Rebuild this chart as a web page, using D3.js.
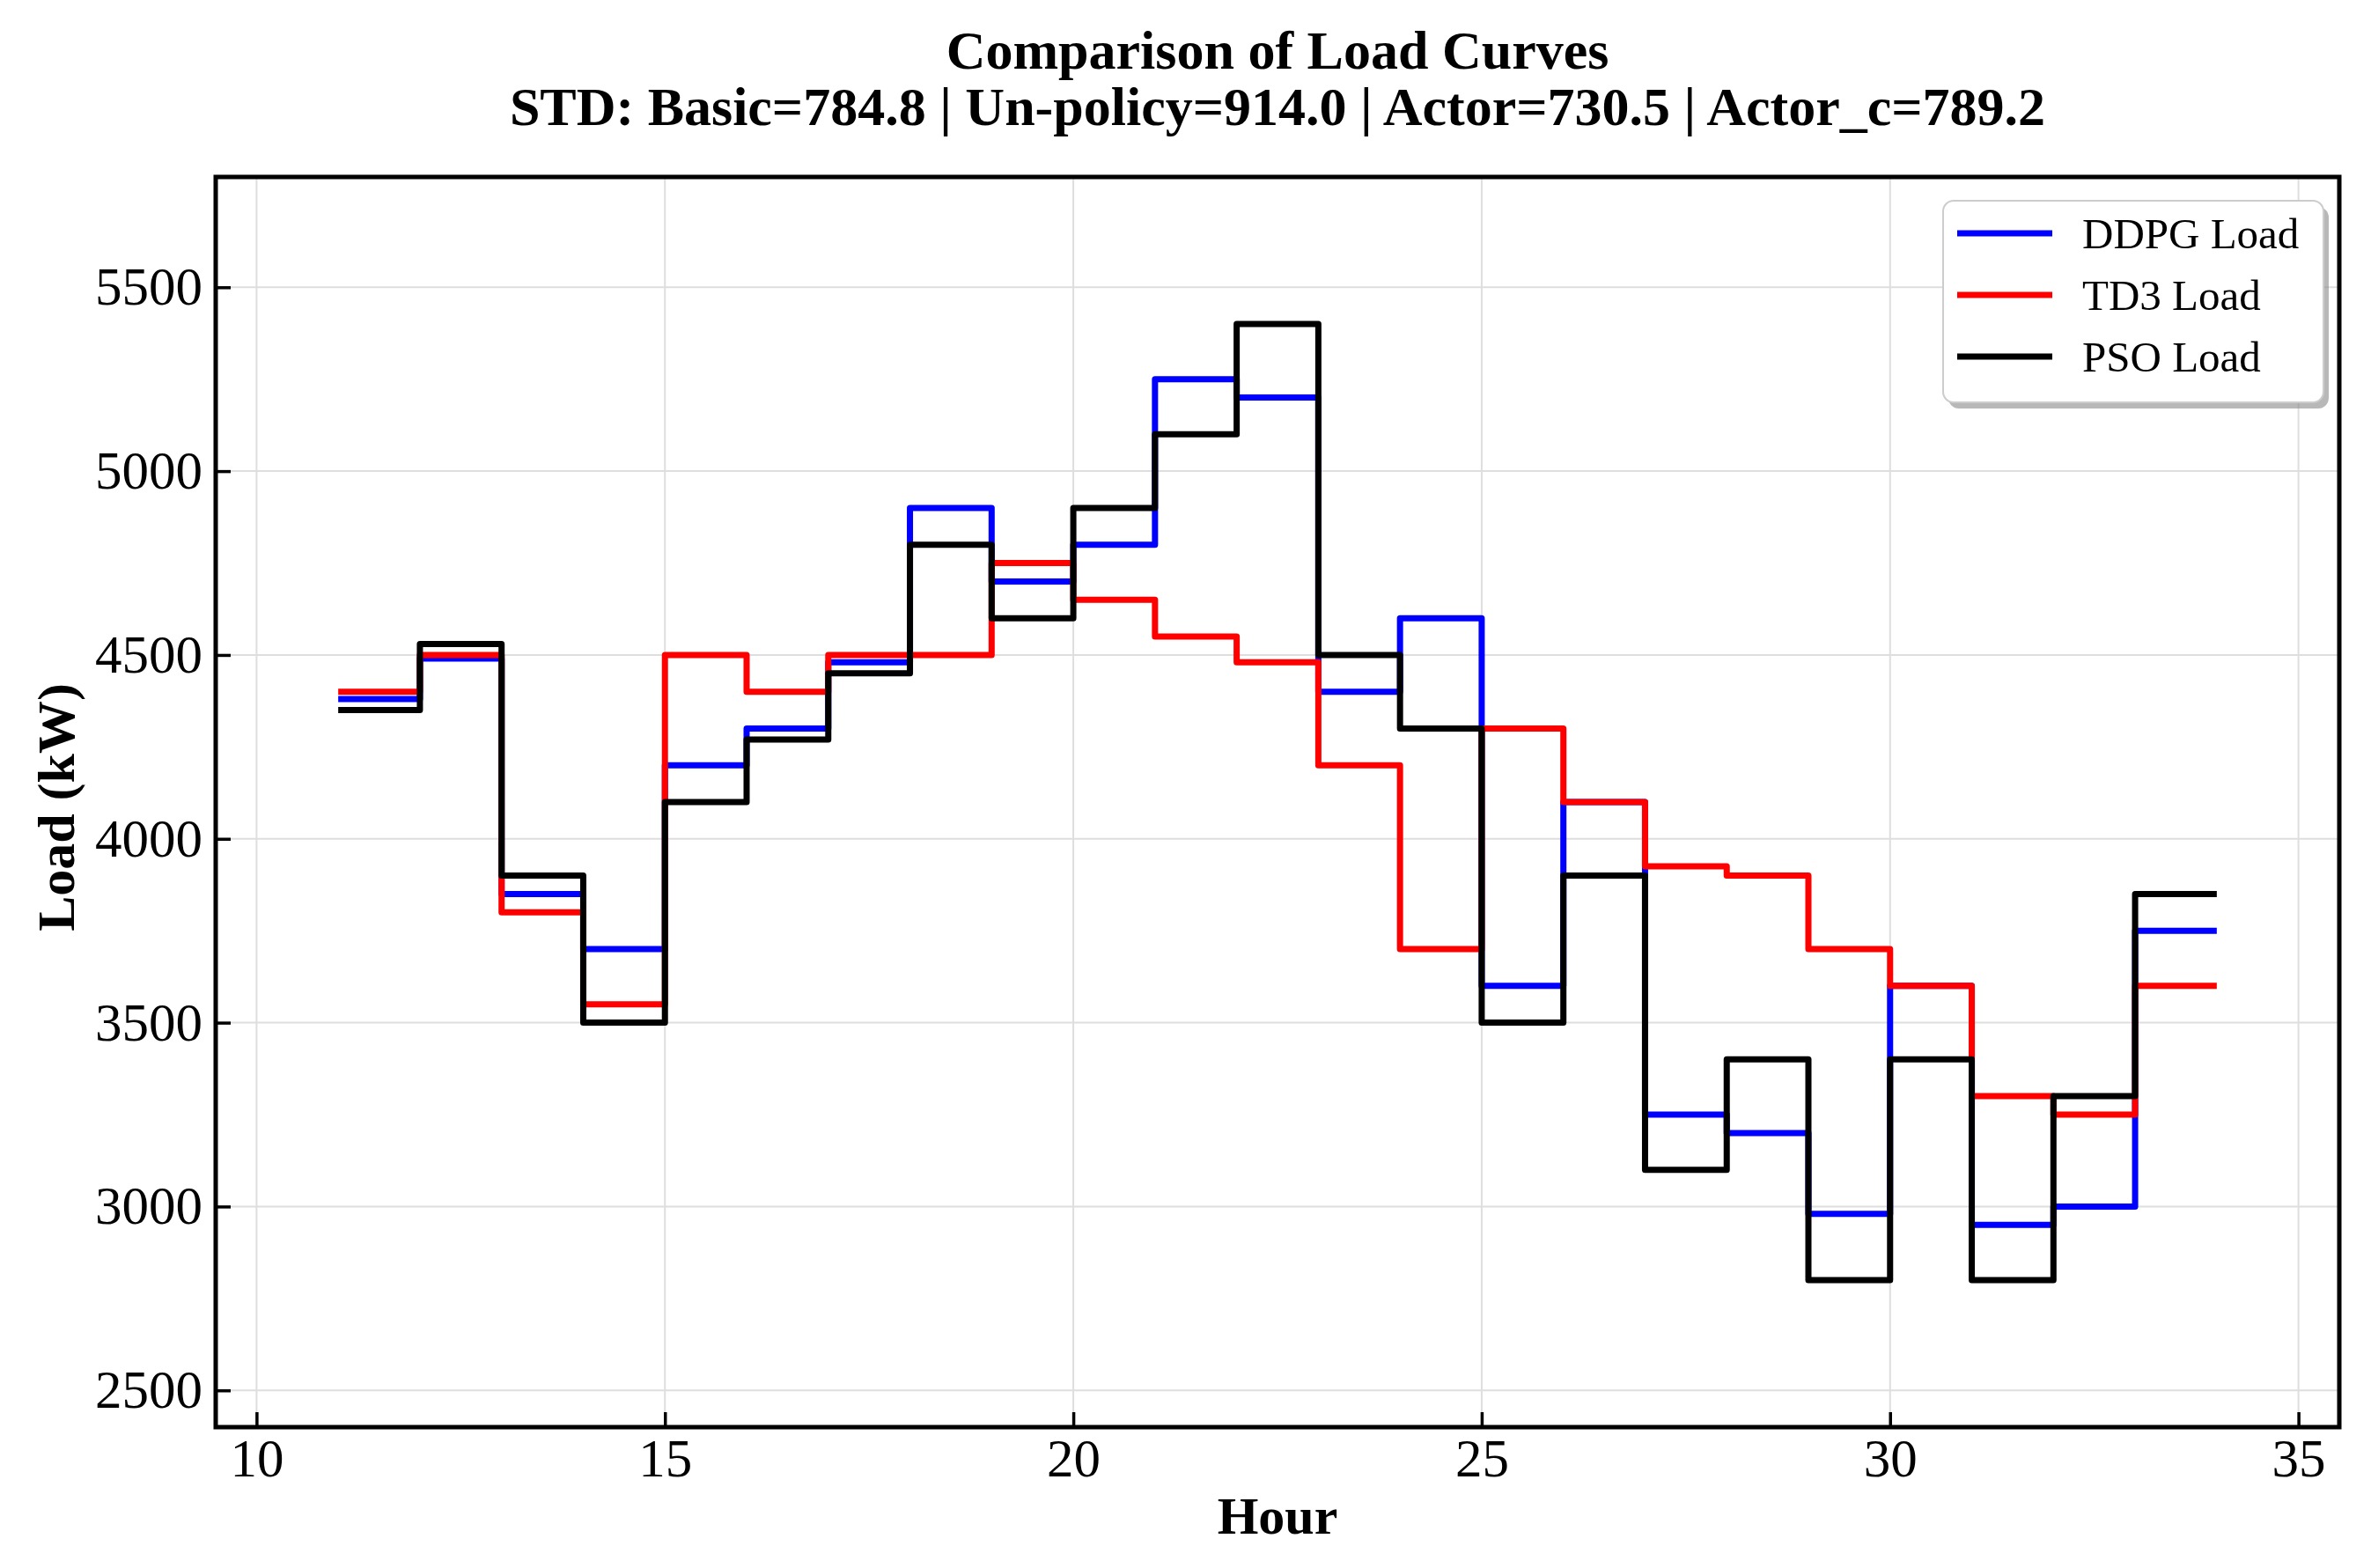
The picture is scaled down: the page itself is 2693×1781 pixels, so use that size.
<!DOCTYPE html>
<html>
<head>
<meta charset="utf-8">
<script src="https://cdn.jsdelivr.net/npm/d3@7"></script>
<style>
  body { margin: 0; background: #fff; }
  text { font-family: "Liberation Serif", "Times New Roman", serif; }
</style>
</head>
<body>
<script>
const WIDTH = 2693
const HEIGHT = 1781

// hours 11..33, each value holds until the next hour (last one until 34)
const HOURS = [11, 12, 13, 14, 15, 16, 17, 18, 19, 20, 21, 22, 23, 24, 25, 26, 27, 28, 29, 30, 31, 32, 33]
const END_HOUR = 34

const DDPG = [4380, 4490, 3850, 3700, 4200, 4300, 4480, 4900, 4700, 4800, 5250, 5200, 4400, 4600, 3600, 4100, 3250, 3200, 2980, 3600, 2950, 3000, 3750]
const TD3 = [4400, 4500, 3800, 3550, 4500, 4400, 4500, 4500, 4750, 4650, 4550, 4480, 4200, 3700, 4300, 4100, 3925, 3900, 3700, 3600, 3300, 3250, 3600]
const PSO = [4350, 4530, 3900, 3500, 4100, 4270, 4450, 4800, 4600, 4900, 5100, 5400, 4500, 4300, 3500, 3900, 3100, 3400, 2800, 3400, 2800, 3300, 3850]

const SERIES_NAMES = ['DDPG Load', 'TD3 Load', 'PSO Load']
const SERIES_COLORS = ['#0000ff', '#ff0000', '#000000']
const SERIES_VALUES = [DDPG, TD3, PSO]

const X_TICKS = [10, 15, 20, 25, 30, 35]
const Y_TICKS = [2500, 3000, 3500, 4000, 4500, 5000, 5500]

const TITLE_1 = 'Comparison of Load Curves'
const TITLE_2 = 'STD: Basic=784.8 | Un-policy=914.0 | Actor=730.5 | Actor_c=789.2'

const M = { left: 245, right: 2657, top: 201, bottom: 1621 }

const svg = d3.select('body')
  .append('svg')
  .attr('width', WIDTH)
  .attr('height', HEIGHT)

const x = d3.scaleLinear().domain([9.5, 35.5]).range([M.left, M.right])
const y = d3.scaleLinear().domain([2400, 5800]).range([M.bottom, M.top])

// grid
const grid = svg.append('g')
grid.selectAll('line.gx')
  .data(X_TICKS)
  .enter()
  .append('line')
  .attr('x1', d => x(d)).attr('x2', d => x(d))
  .attr('y1', M.top).attr('y2', M.bottom)
  .attr('stroke', '#dedede')
  .attr('stroke-width', 2)
grid.selectAll('line.gy')
  .data(Y_TICKS)
  .enter()
  .append('line')
  .attr('x1', M.left).attr('x2', M.right)
  .attr('y1', d => y(d)).attr('y2', d => y(d))
  .attr('stroke', '#dedede')
  .attr('stroke-width', 2)

// step lines
const line = d3.line()
  .x(d => x(d[0]))
  .y(d => y(d[1]))
  .curve(d3.curveStepAfter)

SERIES_VALUES.forEach((vals, i) => {
  const pts = HOURS.map((h, j) => [h, vals[j]])
  pts.push([END_HOUR, vals[vals.length - 1]])
  svg.append('path')
    .attr('d', line(pts))
    .attr('fill', 'none')
    .attr('stroke', SERIES_COLORS[i])
    .attr('stroke-width', 7)
    .attr('stroke-linejoin', 'round')
})

// axes, ticks pointing inward
const xAxis = d3.axisBottom(x).tickValues(X_TICKS).tickFormat(d3.format('d'))
  .tickSizeInner(-17).tickSizeOuter(0).tickPadding(13)
const yAxis = d3.axisLeft(y).tickValues(Y_TICKS).tickFormat(d3.format('d'))
  .tickSizeInner(-17).tickSizeOuter(0).tickPadding(15)

const gx = svg.append('g')
  .attr('transform', `translate(0, ${M.bottom})`)
  .call(xAxis)
const gy = svg.append('g')
  .attr('transform', `translate(${M.left}, 0)`)
  .call(yAxis)

;[gx, gy].forEach(g => {
  g.select('.domain').remove()
  g.selectAll('.tick line').attr('stroke', '#000').attr('stroke-width', 3.5)
  g.selectAll('.tick text')
    .attr('fill', '#000')
    .style('font-size', '61px')
    .style('font-family', '"Liberation Serif", "Times New Roman", serif')
})

// frame
svg.append('rect')
  .attr('x', M.left)
  .attr('y', M.top)
  .attr('width', M.right - M.left)
  .attr('height', M.bottom - M.top)
  .attr('fill', 'none')
  .attr('stroke', '#000')
  .attr('stroke-width', 5)

// titles
svg.append('text')
  .attr('x', (M.left + M.right) / 2)
  .attr('y', 78)
  .attr('text-anchor', 'middle')
  .attr('font-weight', 'bold')
  .attr('font-size', 62)
  .text(TITLE_1)
svg.append('text')
  .attr('x', (M.left + M.right) / 2)
  .attr('y', 142)
  .attr('text-anchor', 'middle')
  .attr('font-weight', 'bold')
  .attr('font-size', 62)
  .text(TITLE_2)

// axis labels
svg.append('text')
  .attr('x', (M.left + M.right) / 2)
  .attr('y', 1742)
  .attr('text-anchor', 'middle')
  .attr('font-weight', 'bold')
  .attr('font-size', 60)
  .text('Hour')
svg.append('text')
  .attr('transform', `translate(84, ${(M.top + M.bottom) / 2 + 6}) rotate(-90)`)
  .attr('text-anchor', 'middle')
  .attr('font-weight', 'bold')
  .attr('font-size', 60)
  .text('Load (kW)')

// legend
const legend = svg.append('g')
  .attr('transform', 'translate(2207, 228)')

const LEG_W = 432
const LEG_H = 229
const ROW = 70

legend.append('rect')
  .attr('x', 6).attr('y', 7)
  .attr('width', LEG_W).attr('height', LEG_H)
  .attr('rx', 12)
  .attr('fill', '#888')
  .attr('opacity', 0.6)
legend.append('rect')
  .attr('width', LEG_W).attr('height', LEG_H)
  .attr('rx', 12)
  .attr('fill', '#fff')
  .attr('stroke', '#cccccc')
  .attr('stroke-width', 2)

legend.selectAll('line')
  .data(SERIES_NAMES)
  .enter()
  .append('line')
  .attr('x1', 16).attr('x2', 124)
  .attr('y1', (d, i) => 37 + i * ROW)
  .attr('y2', (d, i) => 37 + i * ROW)
  .attr('stroke', (d, i) => SERIES_COLORS[i])
  .attr('stroke-width', 7)

legend.selectAll('text')
  .data(SERIES_NAMES)
  .enter()
  .append('text')
  .attr('x', 158)
  .attr('y', (d, i) => 37 + i * ROW)
  .attr('dy', '0.35em')
  .attr('font-size', 49)
  .text(d => d)
</script>
</body>
</html>
